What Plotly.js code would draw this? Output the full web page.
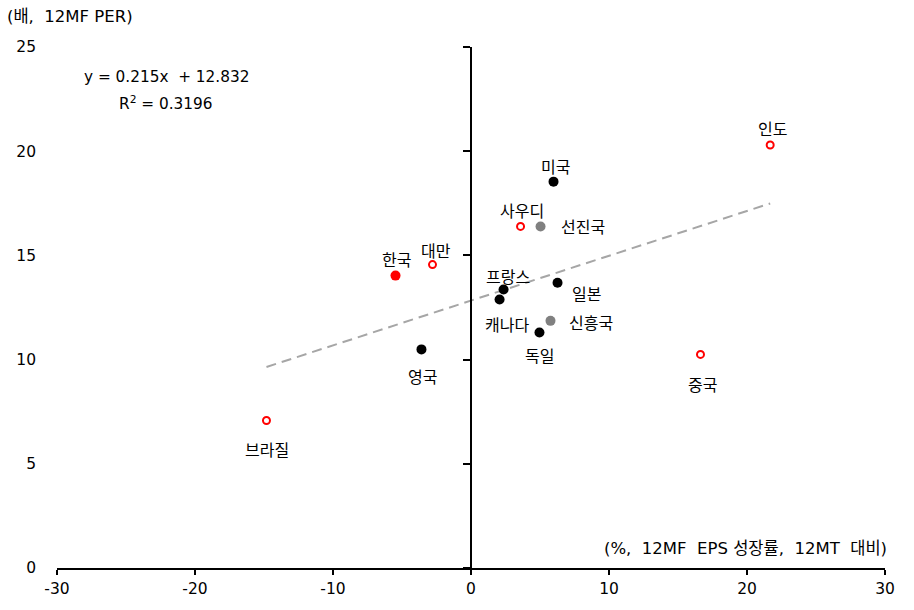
<!DOCTYPE html>
<html>
<head>
<meta charset="utf-8">
<script src="https://cdn.plot.ly/plotly-3.0.1.min.js"></script>
<style>html,body{margin:0;padding:0;background:#fff;}#chart{width:914px;height:610px;}</style>
</head>
<body>
<div id="chart"></div>
<script>
// Data (x: 12MF EPS growth %, y: 12MF PER)
const names  = ['인도','미국','사우디','선진국','한국','대만','프랑스','일본','캐나다','독일','신흥국','영국','중국','브라질'];
const xVals  = [21.68, 5.98, 3.59, 5.04, -5.47, -2.79, 2.36, 6.27, 2.07, 4.96, 5.76, -3.59, 16.63, -14.82];
const yVals  = [20.30, 18.54, 16.39, 16.39, 14.03, 14.56, 13.36, 13.69, 12.88, 11.30, 11.86, 10.49, 10.25, 7.08];
const groups = ['em','dm','em','agg','kr','em','dm','dm','dm','dm','agg','dm','em','em'];
const slope = 0.215, intercept = 12.832, r2 = 0.3196;
const xTicks = [-30,-20,-10,0,10,20,30];
const xTickText = ['-30','-20','-10','0','10','20','30'];
const yTicks = [0,5,10,15,20,25];

// Label offsets in pixels (style)
const labelDx = [2, 2, 1, 42, 1, 3, 4, 29, 7, 0, 41, 1, 2, 1];
const labelDy = [-17, -16, -16, 0, -17, -15, -14, 10, 24, 22, 1, 27, 30, 29];

const styles = {
  dm:  {color:'#000000', open:false},
  agg: {color:'#808080', open:false},
  kr:  {color:'#ff0000', open:false},
  em:  {color:'#ff0000', open:true}
};

const traces = [];
const minX = Math.min(...xVals), maxX = Math.max(...xVals);
traces.push({
  x:[minX, maxX], y:[slope*minX+intercept, slope*maxX+intercept],
  mode:'lines', line:{color:'#a6a6a6', width:2, dash:'10px,6px'},
  hoverinfo:'skip', showlegend:false
});
Object.keys(styles).forEach(g => {
  const idx = groups.map((v,i)=>v===g?i:-1).filter(i=>i>=0);
  const s = styles[g];
  traces.push({
    x: idx.map(i=>xVals[i]), y: idx.map(i=>yVals[i]),
    mode:'markers', type:'scatter', showlegend:false,
    marker: s.open ? {size:7, color:'#ffffff', line:{color:s.color, width:2}}
                   : {size:10, color:s.color, line:{width:0}}
  });
});
traces.push({x:[0], y:[0], yaxis:'y2', mode:'markers', marker:{opacity:0}, showlegend:false, hoverinfo:'skip'});

const korFont = "'Noto Sans CJK KR', sans-serif";
const mixFont = "'DejaVu Sans', 'Noto Sans CJK KR', sans-serif";
const annotations = names.map((n,i)=>({
  x:xVals[i], y:yVals[i], text:n, showarrow:false,
  xshift:labelDx[i], yshift:-labelDy[i], xanchor:'center', yanchor:'middle',
  font:{size:16, color:'#000', family:korFont}
}));
annotations.push({
  x:-22.07, y:23.58, text:'y = ' + slope + 'x\u00a0 + ' + intercept, showarrow:false,
  xanchor:'center', yanchor:'middle', font:{size:15.3, color:'#000', family:mixFont}
});
annotations.push({
  x:-22.07, y:22.33, text:'R<sup>2</sup> = ' + r2, showarrow:false,
  xanchor:'center', yanchor:'middle', font:{size:15.3, color:'#000', family:mixFont}
});
annotations.push({
  xref:'paper', yref:'paper', x:-0.0628, y:1, yshift:31, xanchor:'left', yanchor:'middle',
  text:'(배,\u00a0 12MF PER)', showarrow:false, font:{size:16.5, color:'#000', family:mixFont}
});
annotations.push({
  xref:'paper', yref:'y', x:1, y:0, xshift:4, yshift:20, xanchor:'right', yanchor:'middle',
  text:'(%,\u00a0 12MF\u00a0 EPS 성장률,\u00a0 12MT\u00a0 대비)', showarrow:false, font:{size:16.5, color:'#000', family:mixFont}
});

const layout = {
  width:914, height:610,
  margin:{l:57, r:29, t:47, b:42},
  paper_bgcolor:'#ffffff', plot_bgcolor:'#ffffff',
  font:{family:mixFont, size:15, color:'#000'},
  showlegend:false,
  xaxis:{range:[-30,30], tickvals:xTicks, ticktext:xTickText, ticks:'outside', ticklen:5, tickwidth:2, tickcolor:'#000',
         showline:true, linecolor:'#000', linewidth:2, zeroline:false, showgrid:false,
         tickfont:{size:15.5, family:mixFont, color:'#000'}, fixedrange:true},
  yaxis:{range:[0,25], tickvals:yTicks, ticks:'', showline:false, zeroline:false, showgrid:false,
         ticklabelstandoff:20, tickfont:{size:15.5, family:mixFont, color:'#000'}, fixedrange:true},
  yaxis2:{range:[0,25], overlaying:'y', anchor:'free', position:0.5, side:'left',
          tickvals:yTicks, ticks:'outside', ticklen:7, tickwidth:2, tickcolor:'#000',
          showline:true, linecolor:'#000', linewidth:2, showticklabels:false,
          zeroline:false, showgrid:false, fixedrange:true},
  annotations:annotations
};

Plotly.newPlot('chart', traces, layout, {displayModeBar:false, staticPlot:true});
</script>
</body>
</html>
